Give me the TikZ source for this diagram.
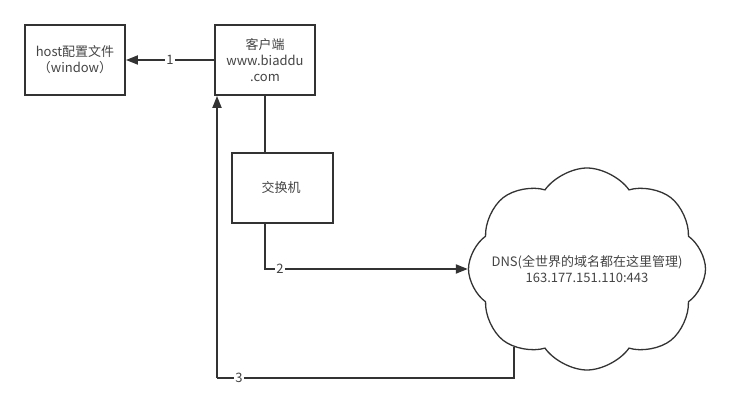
\documentclass[tikz,border=0pt]{standalone}
\usepackage{fontspec}
\setmainfont{Noto Sans CJK SC}
\usetikzlibrary{arrows.meta, shapes.symbols}

\definecolor{linegray}{HTML}{333333}
\definecolor{textgray}{HTML}{444444}

\begin{document}
\begin{tikzpicture}[x = 1pt, y = -1pt,
    font = \fontsize{13}{16}\selectfont, text = textgray,
    box/.style = { draw = linegray, line width = 1.8pt, align = center,
                   minimum width = 100pt, minimum height = 70pt, inner sep = 2pt },
    dnscloud/.style = { draw = linegray, line width = 1.3pt, shape = cloud,
                   cloud puffs = 8, cloud puff arc = 110, aspect = 1.2,
                   minimum width = 237pt, minimum height = 202pt },
    arr/.style = { draw = linegray, line width = 1.8pt, -{Triangle[length = 12pt, width = 9pt]} },
    wire/.style = { draw = linegray, line width = 1.8pt },
    num/.style = { fill = white, inner sep = 1pt, text = textgray }]
    \useasboundingbox (0,0) rectangle (734,403);

    \node [box] (host) at (75,60) { host配置文件 \\ （window） };
    \node [box] (client) at (265,60) { 客户端 \\ www.biaddu \\ .com };
    \node [box, minimum width = 101pt] (switch) at (282.5,188) { 交换机 };
    \node [dnscloud, label = {[align = center, inner sep = 0pt]center:
           DNS(全世界的域名都在这里管理) \\ 163.177.151.110:443}] (dns) at (587,269) {};
    \coordinate (back) at (217,378);

    % 1: look up host file
    \draw [arr] (client.west) -- (host.east) node [num, pos = 0.5] {1};
    % client to switch
    \draw [wire] (client.south) -- (client.south |- switch.north);
    % 2: ask the DNS
    \draw [arr] (client.south |- switch.south) |- (dns.west) node [num, pos = 0.537] {2};
    % 3: answer back to the client
    \draw [wire] (dns.227) |- (back) node [num, pos = 0.963] {3};
    \draw [arr] (back) -- (back |- client.south);

\end{tikzpicture}
\end{document}
